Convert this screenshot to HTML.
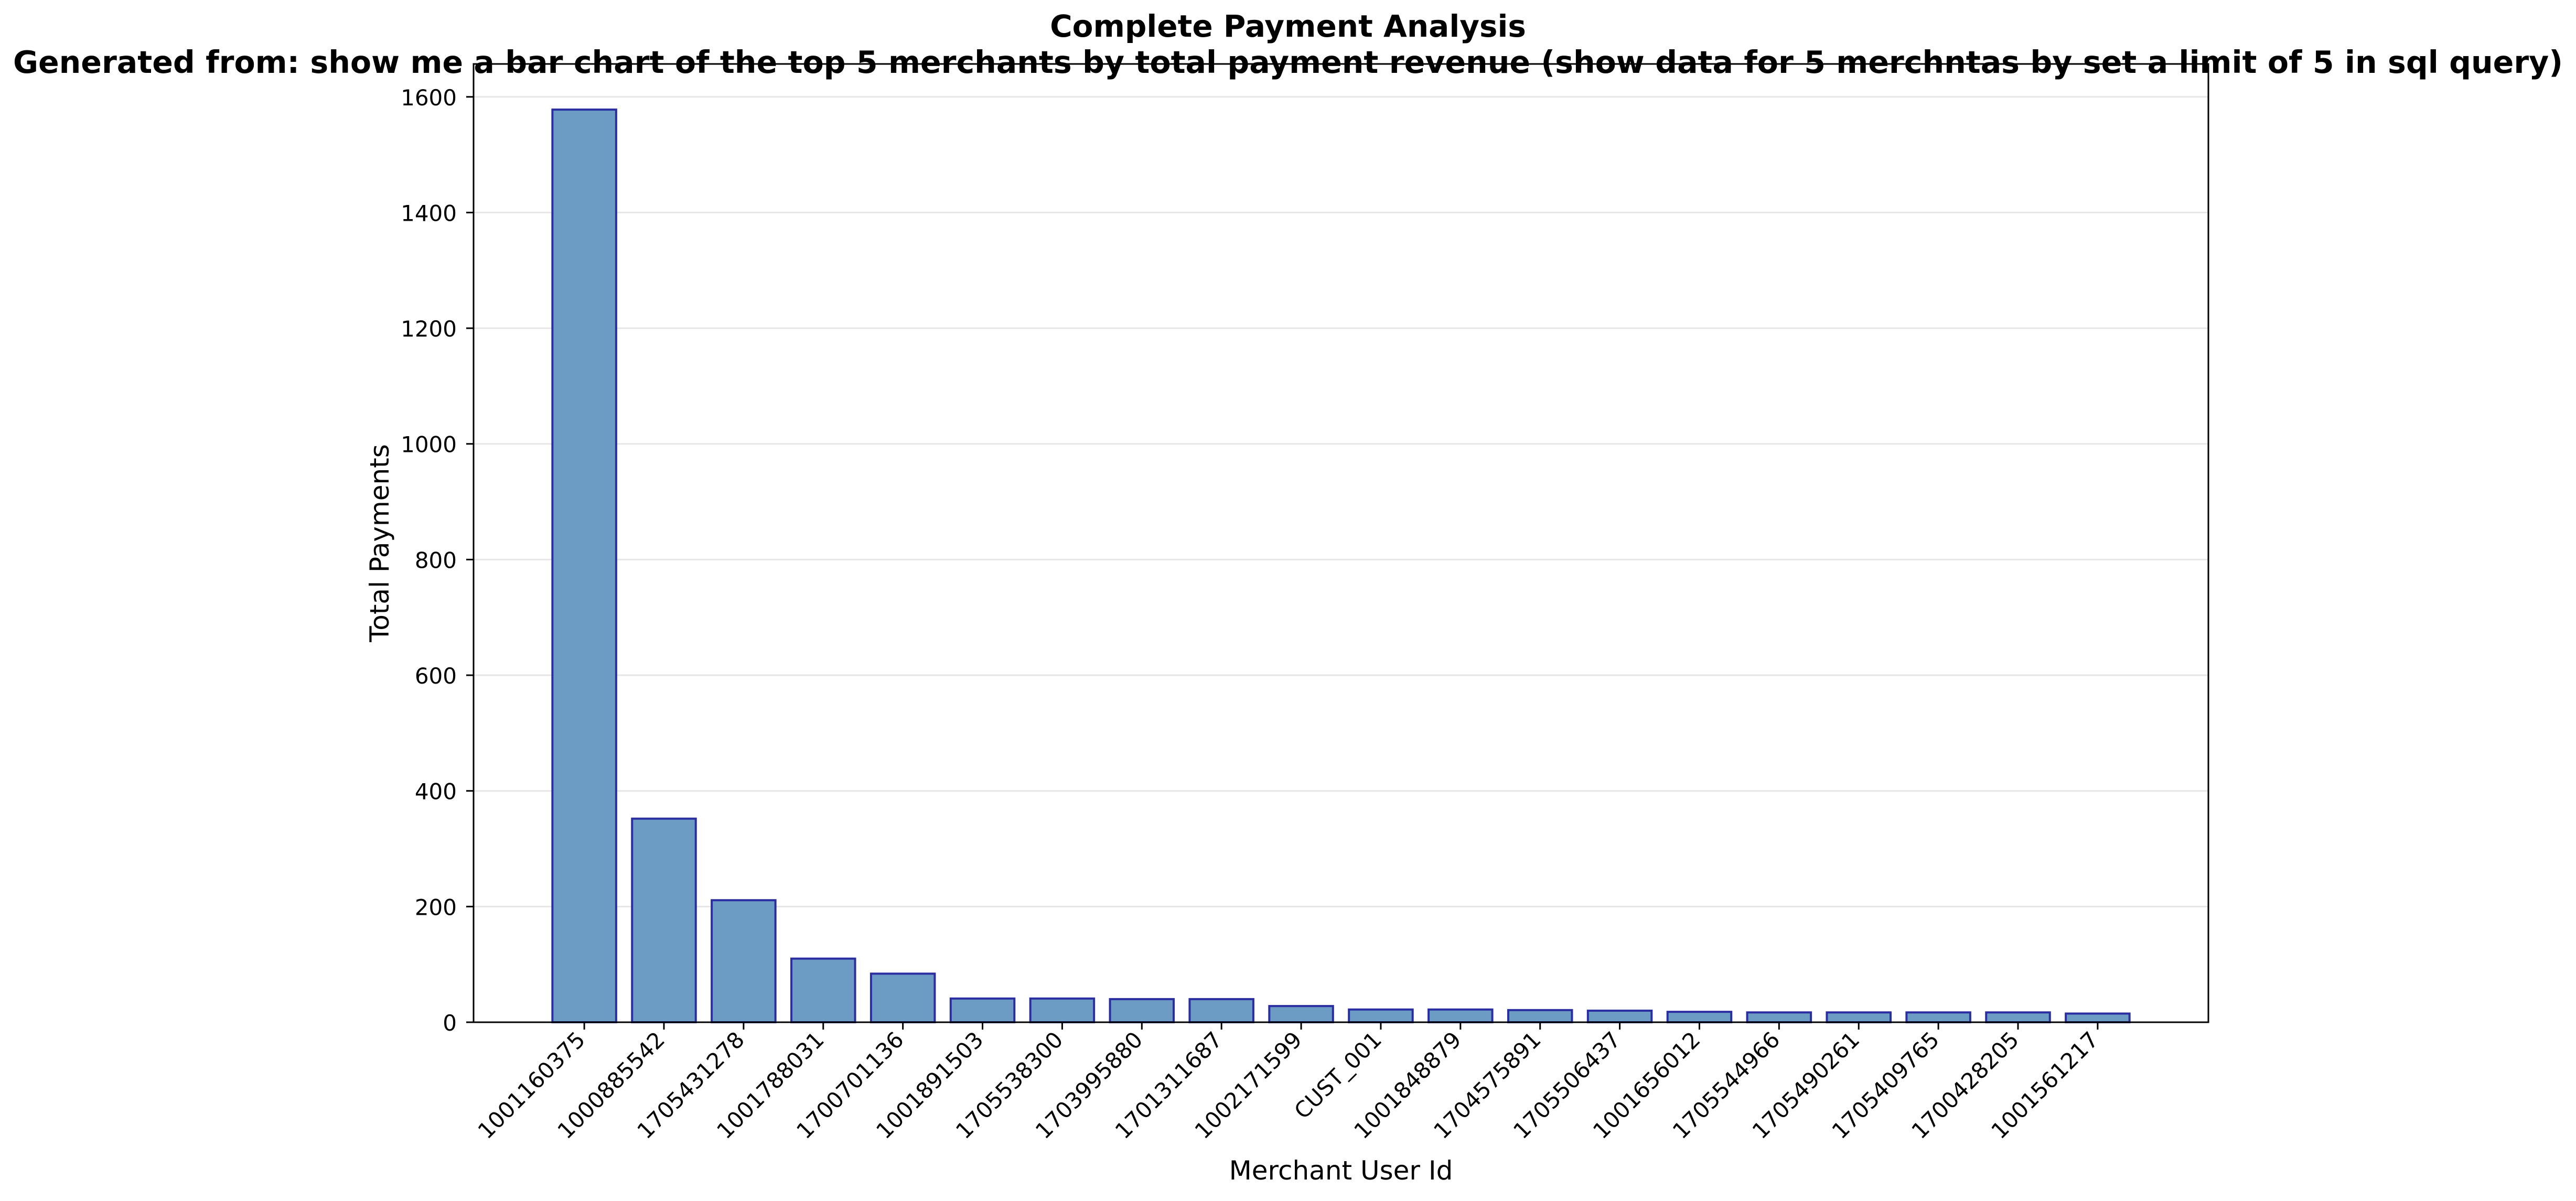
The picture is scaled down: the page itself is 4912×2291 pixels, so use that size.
<!DOCTYPE html>
<html><head><meta charset="utf-8"><style>
html,body{margin:0;padding:0;background:#fff;}
svg{display:block;font-family:"DejaVu Sans","Liberation Sans",sans-serif;}
</style></head><body>
<svg id="chart" width="4912" height="2291" viewBox="0 0 4912 2291" xmlns="http://www.w3.org/2000/svg">
<rect x="0" y="0" width="4912" height="2291" fill="#fff"/>
<g id="grid"></g>
<g id="bars"></g>
<g id="axes"></g>
<text x="2456" y="70" text-anchor="middle" font-size="58" font-weight="bold">Complete Payment Analysis</text>
<text x="2456" y="139" text-anchor="middle" font-size="58.5" font-weight="bold">Generated from: show me a bar chart of the top 5 merchants by total payment revenue (show data for 5 merchntas by set a limit of 5 in sql query)</text>
<text transform="translate(741,1036) rotate(-90)" text-anchor="middle" font-size="50">Total Payments</text>
<text x="2557" y="2250" text-anchor="middle" font-size="50">Merchant User Id</text>
</svg>
<script>
const categories = ["1001160375","1000885542","1705431278","1001788031","1700701136","1001891503","1705538300","1703995880","1701311687","1002171599","CUST_001","1001848879","1704575891","1705506437","1001656012","1705544966","1705490261","1705409765","1700428205","1001561217"];
const values = [1578,352,211,110,84,41,41,40,40,28,22,22,21,20,18,17,17,17,17,15];
const yTicks = [0,200,400,600,800,1000,1200,1400,1600];

const NS = "http://www.w3.org/2000/svg";
const L = 903, R = 4211, T = 122, B = 1950;
const n = categories.length;
const xmin = -0.4 - (n - 0.2) * 0.05, xmax = (n - 1) + 0.4 + (n - 0.2) * 0.05;
const ymax = Math.max(...values) * 1.05;
const xS = v => L + (v - xmin) / (xmax - xmin) * (R - L);
const yS = v => B - v / ymax * (B - T);
const bw = 0.8 * (R - L) / (xmax - xmin);

function mk(tag, attrs, parent) {
  const e = document.createElementNS(NS, tag);
  for (const k in attrs) e.setAttribute(k, attrs[k]);
  parent.appendChild(e);
  return e;
}
const grid = document.getElementById('grid');
const bars = document.getElementById('bars');
const axes = document.getElementById('axes');

yTicks.forEach(t => {
  const y = yS(t);
  const g = mk('line', {x1: L, x2: R, y1: y, y2: y, stroke: '#e6e6e6', 'stroke-width': 3}, grid);
  
  
  const tk = mk('line', {x1: L - 14, x2: L, y1: y, y2: y, stroke: '#000', 'stroke-width': 3}, axes);
  
  
  const lb = mk('text', {x: L - 32, y: y + 16, 'text-anchor': 'end', 'font-size': 42}, axes);
  lb.textContent = t;
  
  
});

values.forEach((v, i) => {
  const cx = xS(i);
  const r = mk('rect', {x: cx - bw / 2, y: yS(v), width: bw, height: B - yS(v), fill: '#6c9cc4', stroke: '#2a2ea0', 'stroke-width': 4}, bars);
  
  
  const tk = mk('line', {x1: cx, x2: cx, y1: B, y2: B + 14, stroke: '#000', 'stroke-width': 3}, axes);
  
  
  const lb = mk('text', {transform: 'translate(' + (cx + 4) + ',' + (B + 36) + ') rotate(-45)', 'text-anchor': 'end', 'font-size': 42}, axes);
  lb.textContent = categories[i];
  
  
});

const frame = mk('rect', {x: L, y: T, width: R - L, height: B - T, fill: 'none', stroke: '#000', 'stroke-width': 3}, axes);


</script>
</body></html>
